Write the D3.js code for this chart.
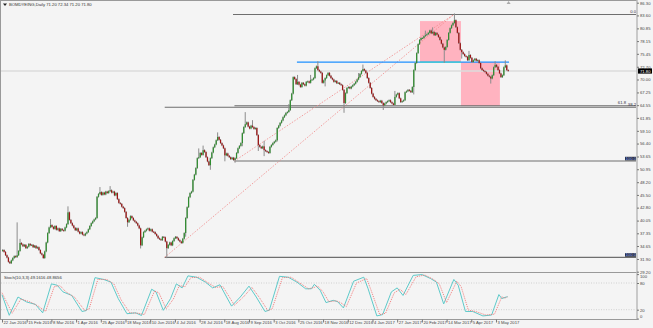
<!DOCTYPE html>
<html>
<head>
<meta charset="utf-8">
<script src="https://d3js.org/d3.v7.min.js"></script>
<style>
body { margin: 0; background: #f4f4f4; }
svg { display: block; font-family: "Liberation Sans", Arial, sans-serif; }
</style>
</head>
<body>
<svg id="chart" width="653" height="328"></svg>
<script>
// daily closes, one per bar
const closes = [
  33.8, 33.4, 32.7, 32.2, 31.3, 31.0, 31.6, 32.1, 32.5, 32.3,
  32.7, 33.6, 35.3, 35.0, 34.6, 34.9, 34.2, 34.5, 35.1, 34.8,
  34.9, 34.4, 34.7, 34.2, 34.4, 33.8, 33.1, 32.8, 32.1, 33.5,
  35.4, 37.4, 38.6, 39.1, 38.7, 38.3, 38.9, 38.1, 38.4, 37.8,
  38.3, 38.0, 37.9, 38.6, 39.3, 41.8, 40.2, 39.5, 39.0, 38.5,
  38.0, 38.4, 37.7, 37.3, 37.6, 37.1, 36.9, 37.3, 37.6, 38.2,
  38.9, 39.5, 39.9, 40.3, 40.6, 45.1, 45.7, 46.1, 45.5, 46.0,
  45.6, 46.2, 45.9, 46.3, 46.5, 46.0, 46.2, 45.4, 45.9, 44.6,
  43.8, 43.6, 43.0, 42.7, 41.9, 40.6, 39.7, 40.2, 41.0, 40.6,
  40.1, 39.8, 39.5, 39.0, 38.4, 34.8, 36.5, 37.6, 37.9, 38.2,
  38.4, 37.9, 38.2, 37.7, 37.6, 37.2, 36.8, 36.3, 36.1, 35.9,
  36.6, 36.5, 35.6, 34.2, 34.9, 35.4, 34.8, 35.7, 36.3, 36.6,
  36.3, 35.9, 35.6, 35.3, 36.2, 37.4, 40.6, 42.9, 45.0, 45.9,
  46.2, 48.7, 49.8, 51.2, 53.3, 53.5, 54.4, 54.0, 55.0, 54.6,
  53.5, 52.6, 51.8, 53.3, 54.5, 55.6, 56.2, 57.1, 57.8, 57.2,
  56.5, 56.0, 55.4, 53.9, 54.3, 53.8, 53.5, 53.1, 53.4, 52.9,
  53.3, 54.4, 55.4, 55.9, 56.5, 58.6, 59.9, 60.5, 60.9, 60.0,
  59.6, 60.2, 59.9, 59.5, 59.7, 58.2, 56.1, 55.7, 55.4, 55.8,
  55.0, 54.8, 54.6, 54.4, 55.7, 56.1, 56.5, 56.8, 57.1, 59.7,
  60.2, 60.8, 61.3, 62.0, 62.4, 62.9, 63.1, 63.5, 65.6, 67.0,
  70.5, 70.1, 69.0, 69.5, 68.9, 68.4, 69.3, 69.0, 68.7, 69.5,
  69.6, 69.3, 69.9, 70.0, 70.3, 72.4, 72.8, 72.0, 71.7, 71.4,
  69.3, 69.8, 70.3, 70.9, 71.4, 70.8, 70.3, 70.0, 69.5, 69.7,
  69.2, 69.3, 69.0, 68.8, 67.8, 65.0, 67.1, 68.2, 68.4, 68.1,
  68.5, 68.8, 69.1, 69.5, 70.0, 70.5, 71.2, 71.8, 72.2, 71.9,
  71.4, 70.3, 69.3, 68.2, 67.0, 66.3, 65.9, 65.6, 65.4, 65.2,
  65.5, 65.0, 64.5, 64.9, 65.2, 65.4, 65.6, 65.2, 64.9, 64.6,
  66.3, 66.8, 67.1, 66.0, 65.2, 65.4, 65.6, 67.3, 67.5, 67.8,
  67.6, 67.3, 68.4, 72.0, 73.5, 75.6, 77.5, 78.4, 78.8, 78.8,
  79.2, 79.4, 79.6, 79.9, 80.4, 79.8, 80.1, 79.4, 79.9, 79.5,
  79.0, 78.4, 77.6, 76.8, 76.3, 76.9, 78.4, 79.9, 80.9, 81.5,
  82.0, 82.6, 81.1, 79.9, 77.7, 76.3, 75.8, 75.4, 75.0, 74.8,
  74.1, 75.2, 74.6, 73.7, 74.1, 74.4, 74.0, 74.1, 73.5, 72.4,
  72.0, 71.8, 71.6, 71.2, 70.8, 70.6, 70.2, 70.9, 72.6, 73.1,
  72.7, 72.0, 71.3, 70.5, 70.9, 72.6, 73.0, 72.0, 71.8
];
const firstOpen = 33.6;
// visible wicks: [bar, high, low]
const wicks = [
  [10, 39.5, null], [12, 36.0, null], [31, null, 35.5], [33, 40.2, null], [45, 42.9, null],
  [65, null, 40.6], [67, 47.0, null], [74, 47.2, null], [86, null, 38.9], [95, null, 34.3],
  [113, null, 32.25], [126, null, 36.8], [135, 55.2, null], [138, 55.8, null], [143, null, 51.0],
  [148, 58.6, null], [153, null, 52.8], [160, null, 52.5], [165, null, 56.0], [167, 62.9, null],
  [172, 61.2, null], [176, null, 55.0], [180, 56.8, 53.9], [189, null, 57.0], [197, 64.6, null],
  [200, null, 67.6], [203, 70.8, null], [212, 70.8, null], [217, 73.7, null], [222, null, 68.7],
  [235, null, 63.1], [245, 71.2, null], [248, 73.0, null], [262, null, 63.7], [270, 67.4, null],
  [283, null, 67.0], [291, 80.2, null], [296, 80.9, null], [304, null, 73.7], [311, 83.85, null],
  [316, null, 74.6], [321, 75.9, null], [336, null, 69.3], [339, 73.7, null], [346, 73.9, null]
];

const dateLabels = ["22 Jan 2016", "15 Feb 2016", "8 Mar 2016", "1 Apr 2016", "25 Apr 2016",
  "18 May 2016", "10 Jun 2016", "4 Jul 2016", "28 Jul 2016", "18 Aug 2016", "9 Sep 2016",
  "3 Oct 2016", "25 Oct 2016", "18 Nov 2016", "12 Dec 2016", "4 Jan 2017", "27 Jan 2017",
  "20 Feb 2017", "14 Mar 2017", "5 Apr 2017", "3 May 2017"];
const barsPerLabel = 17;

const priceTicks = [86.30, 83.60, 80.85, 78.15, 75.45, 72.70, 70.00, 67.25, 64.55, 61.85, 59.10,
  56.40, 53.65, 50.95, 48.20, 45.50, 42.80, 40.05, 37.35, 34.65, 31.90, 29.20];
const stochTicks = [100, 80, 20, 0];
const stochLevels = [80, 20];

// Stoch(10,3,3) main and signal, [bar, value]
const stochK = [[0,53.7],[5,7.4],[11,48.5],[17,37.3],[23,32],[28,13],[34,78],[38,75],[42,60],[48,52],
  [55,16],[58,18],[64,92],[70,88],[75,82],[80,45],[86,11],[92,13],[96,7],[103,66],[106,60],[111,18.6],
  [116,45],[120,78],[124,69],[128,96],[134,93],[140,82],[145,69],[150,76],[158,28],[164,48.5],[170,73],
  [175,48.5],[181,16],[184,19],[191,95],[197,93],[203,82],[209,67],[213,67],[215,77],[219,63.6],[223,36],
  [228,41],[231,38],[235,24],[242,84],[249,93],[252,67],[258,6],[262,9],[268,60],[272,69],[276,52],
  [283,97],[289,99],[295,90],[299,82],[304,33],[311,88],[314,75],[319,16],[324,16],[331,6],[337,8],
  [342,54],[344,45],[347,48.5],[348,49.16]];
const stochD = [[0,58],[7,12],[13,44],[19,38],[25,28],[30,16],[36,72],[40,74],[44,60],[50,48],
  [57,18],[60,22],[66,88],[72,88],[77,78],[82,42],[88,13],[94,12],[98,9],[105,62],[108,58],[113,22],
  [118,44],[122,74],[126,72],[130,92],[136,93],[142,80],[147,70],[152,72],[160,30],[166,48],[172,70],
  [177,48],[183,18],[186,22],[193,92],[199,93],[205,80],[211,67],[215,70],[217,74],[221,60],[225,38],
  [230,40],[233,36],[237,27],[244,80],[251,90],[254,64],[260,9],[264,12],[270,58],[274,66],[278,54],
  [285,94],[291,98],[297,88],[301,78],[306,36],[313,84],[316,72],[321,19],[326,16],[333,8],[339,10],
  [344,49],[346,46],[348,48.87]];

// fibonacci levels and their rays
const fibLevels = [
  {price: 83.8, from: 159, label: "0.0", dx: 0, dark: false},
  {price: 64.44, from: 160, label: "61.8", dx: -10, dark: false},
  {price: 64.1, from: 112, label: "38.2", dx: 0, dark: false},
  {price: 52.7, from: 160, label: "100.0", dx: 0, dark: true},
  {price: 32.25, from: 112, label: "100.0", dx: 0, dark: true}
];
const fibRays = [[112, 32.25, 311, 83.8], [160, 52.7, 311, 83.8]];
const resistance = {price: 73.7, from: 203, to: 349};
const zones = [{from: 287.7, to: 315.9, top: 82.4, bottom: 73.7},
               {from: 315.9, to: 342.7, top: 73.7, bottom: 64.35}];
const lastPrice = 71.80;
const title = "BOMDYEING,Daily  71.20 72.34 71.20 71.80";
const stochTitle = "Stoch(10,3,3) 49.1616 48.8656";

const svg = d3.select('#chart');
const W = 653, axisX = 637;

const x = d3.scaleLinear().domain([0, 348]).range([2, 507.6]);
const y = d3.scaleLinear().domain([29.20, 86.30]).range([271.7, 2.7]);
const ys = d3.scaleLinear().domain([0, 100]).range([318.6, 274.1]);

svg.append('rect').attr('width', W).attr('height', 328).attr('fill', '#f4f4f4');

// zones
svg.append('g').selectAll('rect').data(zones).join('rect')
  .attr('x', d => x(d.from)).attr('width', d => x(d.to) - x(d.from))
  .attr('y', d => y(d.top)).attr('height', d => y(d.bottom) - y(d.top))
  .attr('fill', '#ffb3c0');

// current price line
svg.append('line').attr('x1', 1).attr('x2', axisX).attr('y1', y(lastPrice)).attr('y2', y(lastPrice))
  .attr('stroke', '#dcdcdc').attr('stroke-width', 1.5);

// fib levels
const fg = svg.append('g');
fg.selectAll('line').data(fibLevels).join('line')
  .attr('x1', d => x(d.from)).attr('x2', axisX - 1)
  .attr('y1', d => y(d.price)).attr('y2', d => y(d.price))
  .attr('stroke', '#6e6e6e').attr('stroke-width', 1.1);
fg.selectAll('rect').data(fibLevels.filter(d => d.dark)).join('rect')
  .attr('x', axisX - 12).attr('y', d => y(d.price) - 4.2).attr('width', 11).attr('height', 3.6)
  .attr('fill', '#2a2f3a');
fg.selectAll('text').data(fibLevels).join('text')
  .attr('x', d => axisX - 1 + d.dx).attr('y', d => y(d.price) - 1.2)
  .attr('text-anchor', 'end').attr('font-size', 4.2)
  .attr('fill', d => d.dark ? '#8fa8ff' : '#334')
  .text(d => d.label);
svg.append('g').selectAll('line').data(fibRays).join('line')
  .attr('x1', d => x(d[0])).attr('y1', d => y(d[1]))
  .attr('x2', d => x(d[2])).attr('y2', d => y(d[3]))
  .attr('stroke', '#f08888').attr('stroke-width', 0.8).attr('stroke-dasharray', '1.5,1.5');

// resistance line
svg.append('line').attr('x1', x(resistance.from)).attr('x2', x(resistance.to))
  .attr('y1', y(resistance.price)).attr('y2', y(resistance.price))
  .attr('stroke', '#1e90ff').attr('stroke-width', 1.3);
svg.append('line').attr('x1', x(zones[0].from)).attr('x2', x(zones[0].to))
  .attr('y1', y(resistance.price)).attr('y2', y(resistance.price))
  .attr('stroke', '#40d0d0').attr('stroke-width', 1.3);

// candles
const wickMap = new Map(wicks.map(w => [w[0], w]));
const bars = closes.map((c, i) => {
  const o = i === 0 ? firstOpen : closes[i - 1];
  const w = wickMap.get(i);
  let h = Math.max(o, c), l = Math.min(o, c);
  if (w && w[1] != null) h = Math.max(h, w[1]);
  if (w && w[2] != null) l = Math.min(l, w[2]);
  return {i, o, c, h, l};
});
const cg = svg.append('g');
cg.selectAll('line').data(bars).join('line')
  .attr('x1', d => x(d.i) + 0.6).attr('x2', d => x(d.i) + 0.6)
  .attr('y1', d => y(d.h) - 0.8).attr('y2', d => y(d.l) + 0.8)
  .attr('stroke', '#8c8c8c').attr('stroke-width', 1);
cg.selectAll('rect').data(bars).join('rect')
  .attr('x', d => x(d.i)).attr('width', 1.25)
  .attr('y', d => y(Math.max(d.o, d.c)))
  .attr('height', d => Math.max(0.9, Math.abs(y(d.o) - y(d.c))))
  .attr('fill', d => d.c >= d.o ? '#2f8c2f' : '#9c1414');

// frame
svg.append('line').attr('x1', 0.5).attr('x2', 0.5).attr('y1', 0).attr('y2', 320).attr('stroke', '#999');
svg.append('line').attr('x1', 0).attr('x2', axisX).attr('y1', 0.5).attr('y2', 0.5).attr('stroke', '#999');
svg.append('line').attr('x1', 0).attr('x2', axisX).attr('y1', 272.5).attr('y2', 272.5).attr('stroke', '#999');
svg.append('line').attr('x1', axisX).attr('x2', axisX).attr('y1', 0).attr('y2', 320)
  .attr('stroke', '#bbb').attr('stroke-width', 1.5);

// shift marker
svg.append('path').attr('d', `M${x(348) + 1},1 l-2,3 l4,0 z`).attr('fill', '#aaa');

// price axis
const yAxis = d3.axisRight(y).tickValues(priceTicks).tickFormat(d3.format('.2f')).tickSize(2);
const ya = svg.append('g').attr('transform', `translate(${axisX},0)`).call(yAxis);
ya.select('.domain').remove();
ya.selectAll('line').attr('stroke', '#777');
ya.selectAll('text').attr('font-size', 4.2).attr('fill', '#444').attr('x', 3);

// last price box
svg.append('rect').attr('x', axisX + 1).attr('y', y(lastPrice) - 2.6).attr('width', 14).attr('height', 5.2)
  .attr('fill', '#000');
svg.append('text').attr('x', axisX + 3).attr('y', y(lastPrice) + 1.5).attr('font-size', 4.2)
  .attr('fill', '#fff').text(lastPrice.toFixed(2));

// stoch panel
svg.append('g').selectAll('line').data(stochLevels).join('line')
  .attr('x1', 1).attr('x2', axisX).attr('y1', d => ys(d)).attr('y2', d => ys(d))
  .attr('stroke', '#c8c8c8').attr('stroke-dasharray', '1,1.5').attr('stroke-width', 0.8);
const line = d3.line().x(d => x(d[0])).y(d => ys(d[1]));
svg.append('path').datum(stochK).attr('d', line).attr('fill', 'none')
  .attr('stroke', '#5ecaca').attr('stroke-width', 1);
svg.append('path').datum(stochD).attr('d', line).attr('fill', 'none')
  .attr('stroke', '#f07070').attr('stroke-width', 0.9).attr('stroke-dasharray', '1,1');
const sAxis = d3.axisRight(ys).tickValues(stochTicks).tickSize(2);
const sa = svg.append('g').attr('transform', `translate(${axisX},0)`).call(sAxis);
sa.select('.domain').remove();
sa.selectAll('line').attr('stroke', '#777');
sa.selectAll('text').attr('font-size', 4.2).attr('fill', '#444').attr('x', 3)
  .attr('y', d => d === 100 ? 1.8 : d === 0 ? -2.4 : 0);
svg.append('text').attr('x', 4).attr('y', 278.5).attr('font-size', 4.2).attr('fill', '#333').text(stochTitle);

// time axis
svg.append('line').attr('x1', 0).attr('x2', axisX).attr('y1', 319.5).attr('y2', 319.5).attr('stroke', '#999');
const xAxis = d3.axisBottom(x).tickValues(dateLabels.map((d, k) => k * barsPerLabel))
  .tickFormat((d, k) => dateLabels[k]).tickSize(3);
const xa = svg.append('g').attr('transform', 'translate(0,319.5)').call(xAxis);
xa.select('.domain').remove();
xa.selectAll('line').attr('stroke', '#777');
xa.selectAll('text').attr('font-size', 4.2).attr('fill', '#444')
  .attr('text-anchor', 'start').attr('x', 1).attr('y', 2).attr('dy', '0.71em');

// title
svg.append('path').attr('d', 'M3,3.5 l4,0 l-2,2.5 z').attr('fill', '#222');
svg.append('text').attr('x', 9).attr('y', 6.2).attr('font-size', 4.2).attr('fill', '#333').text(title);
</script>
</body>
</html>
